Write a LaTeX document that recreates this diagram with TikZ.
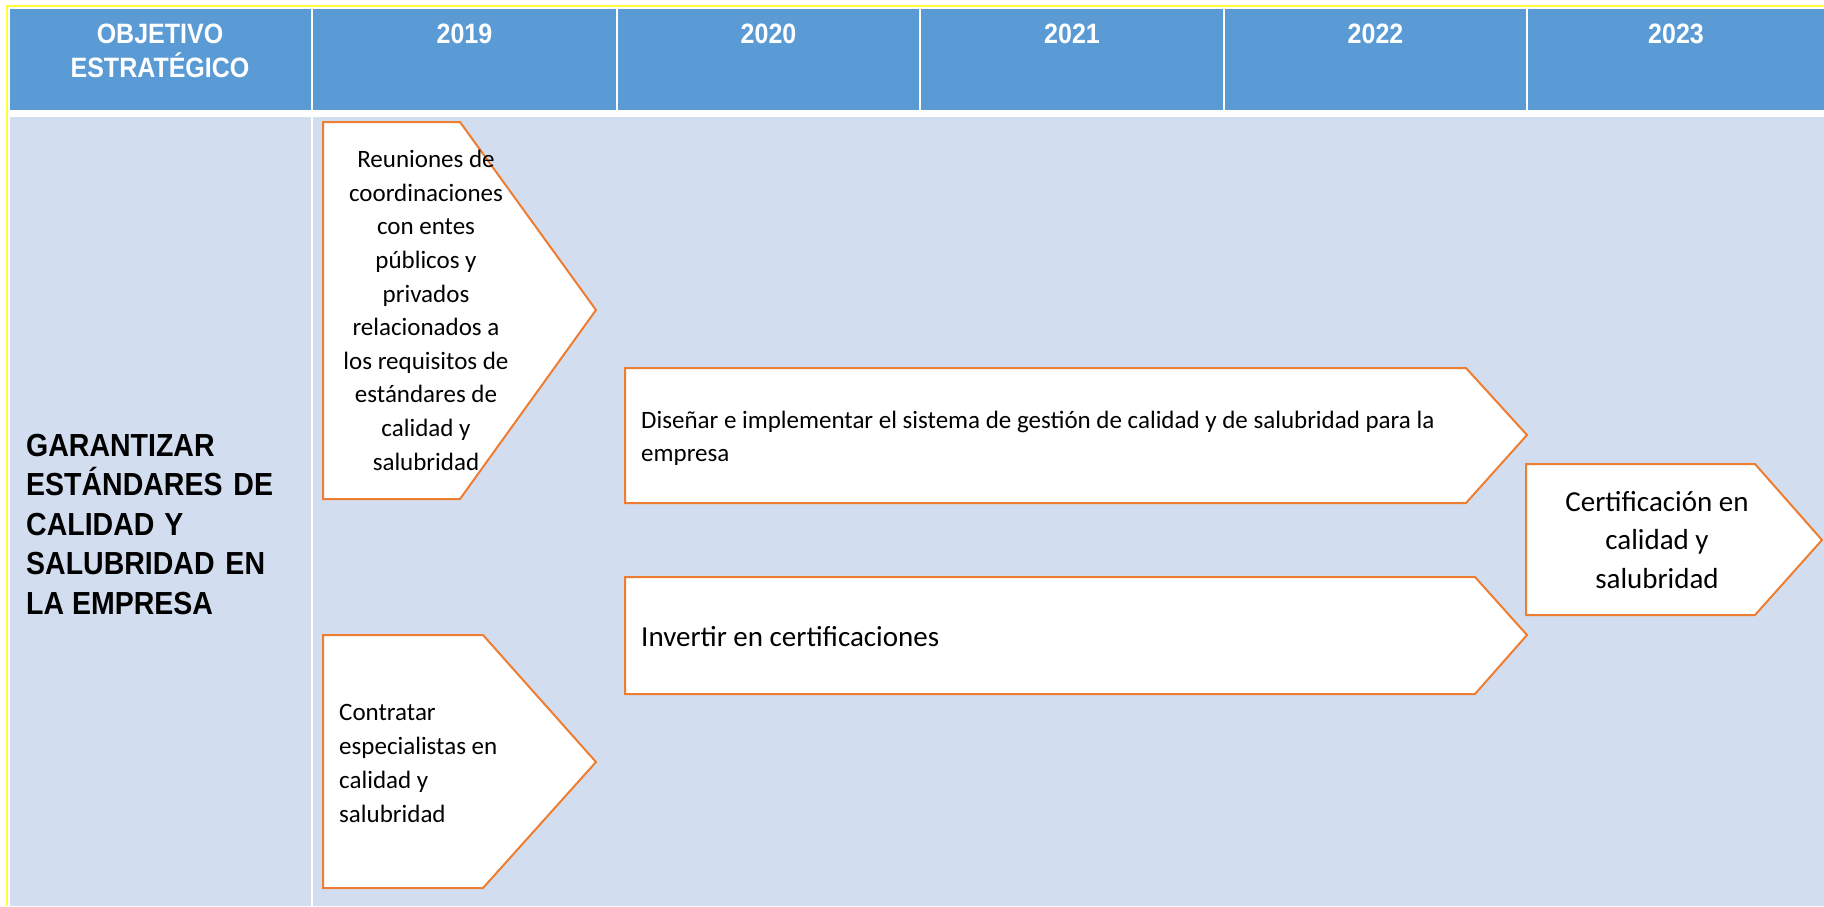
\documentclass[tikz,border=0pt]{standalone}
\usepackage{fontspec}
\setmainfont{Carlito}
\newfontfamily\arialf{Liberation Sans}
\definecolor{hblue}{HTML}{5B9BD5}
\definecolor{bodyc}{HTML}{D2DEEF}
\definecolor{orangeC}{HTML}{ED7D31}
\definecolor{yel}{HTML}{FFFF40}
\newcommand{\vstretch}[1]{\scalebox{1}[1.12]{#1}}
\tikzset{
  hdrtext/.style={font=\arialf\bfseries\fontsize{25}{34}\selectfont, text=white, align=center, anchor=base, inner sep=0pt},
  objtext/.style={font=\arialf\bfseries\fontsize{28.5}{39.5}\selectfont, text=black, align=left, anchor=base west, inner sep=0pt},
  chevron/.style={draw=orangeC, line width=2pt, fill=white, line join=miter},
  boxtext/.style={text=black, inner sep=0pt},
}
\begin{document}
\begin{tikzpicture}[x=1pt,y=-1pt]
\useasboundingbox (0,0) rectangle (1824,906);
\fill[white] (0,0) rectangle (1824,906);
% yellow outer frame
\draw[yel, line width=1.5pt] (7,906) -- (7,6) -- (1824,6);
% header cells
\fill[hblue] (10,9) rectangle (311,110);
\fill[hblue] (313,9) rectangle (616,110);
\fill[hblue] (618,9) rectangle (919,110);
\fill[hblue] (921,9) rectangle (1223,110);
\fill[hblue] (1225,9) rectangle (1526,110);
\fill[hblue] (1528,9) rectangle (1824,110);
% body cells
\fill[bodyc] (10,117) rectangle (311,906);
\fill[bodyc] (313,117) rectangle (1824,906);
% header texts (base = last line)
\node[hdrtext] (hobj) at (160,77) {\vstretch{OBJETIVO}\\\vstretch{ESTRATÉGICO}};
\node[hdrtext] (h2019) at (464.5,43) {\vstretch{2019}};
\node[hdrtext] (h2020) at (768.5,43) {\vstretch{2020}};
\node[hdrtext] (h2021) at (1072,43) {\vstretch{2021}};
\node[hdrtext] (h2022) at (1375.5,43) {\vstretch{2022}};
\node[hdrtext] (h2023) at (1676,43) {\vstretch{2023}};
% objective text
\node[objtext] (obj) at (26,614) {\vstretch{GARANTIZAR}\\\vstretch{ESTÁNDARES\hspace{3pt} DE}\\\vstretch{CALIDAD\hspace{2pt} Y}\\\vstretch{SALUBRIDAD\hspace{3pt} EN}\\\vstretch{LA EMPRESA}};
% chevrons
\draw[chevron] (323,122) -- (460,122) -- (596,310) -- (460,499) -- (323,499) -- cycle;
\draw[chevron] (323,635) -- (483,635) -- (596,762) -- (483,888) -- (323,888) -- cycle;
\draw[chevron] (625,368) -- (1466,368) -- (1527,435) -- (1466,503) -- (625,503) -- cycle;
\draw[chevron] (625,577) -- (1475,577) -- (1527,635) -- (1475,694) -- (625,694) -- cycle;
\draw[chevron] (1526,464) -- (1755,464) -- (1822,540) -- (1755,615) -- (1526,615) -- cycle;
% chevron texts (base = last line)
\node[boxtext, font=\fontsize{25}{33.6}\selectfont, align=center, anchor=base] (reun) at (426,470)
  {Reuniones de\\coordinaciones\\con entes\\públicos y\\privados\\relacionados a\\los requisitos de\\estándares de\\calidad y\\salubridad};
\node[boxtext, font=\fontsize{25}{34}\selectfont, align=left, anchor=base west] (contr) at (339,822)
  {Contratar\\especialistas en\\calidad y\\salubridad};
\node[boxtext, font=\fontsize{25}{33}\selectfont, align=left, anchor=base west] (dis) at (641,461)
  {Diseñar e implementar el sistema de gestión de calidad y de salubridad para la\\empresa};
\node[boxtext, font=\fontsize{29}{36}\selectfont, align=left, anchor=base west] (inv) at (641,646)
  {Invertir en certificaciones};
\node[boxtext, font=\fontsize{29}{38.5}\selectfont, align=center, anchor=base] (cert) at (1657,588)
  {Certificación en\\calidad y\\salubridad};
\end{tikzpicture}
\end{document}
